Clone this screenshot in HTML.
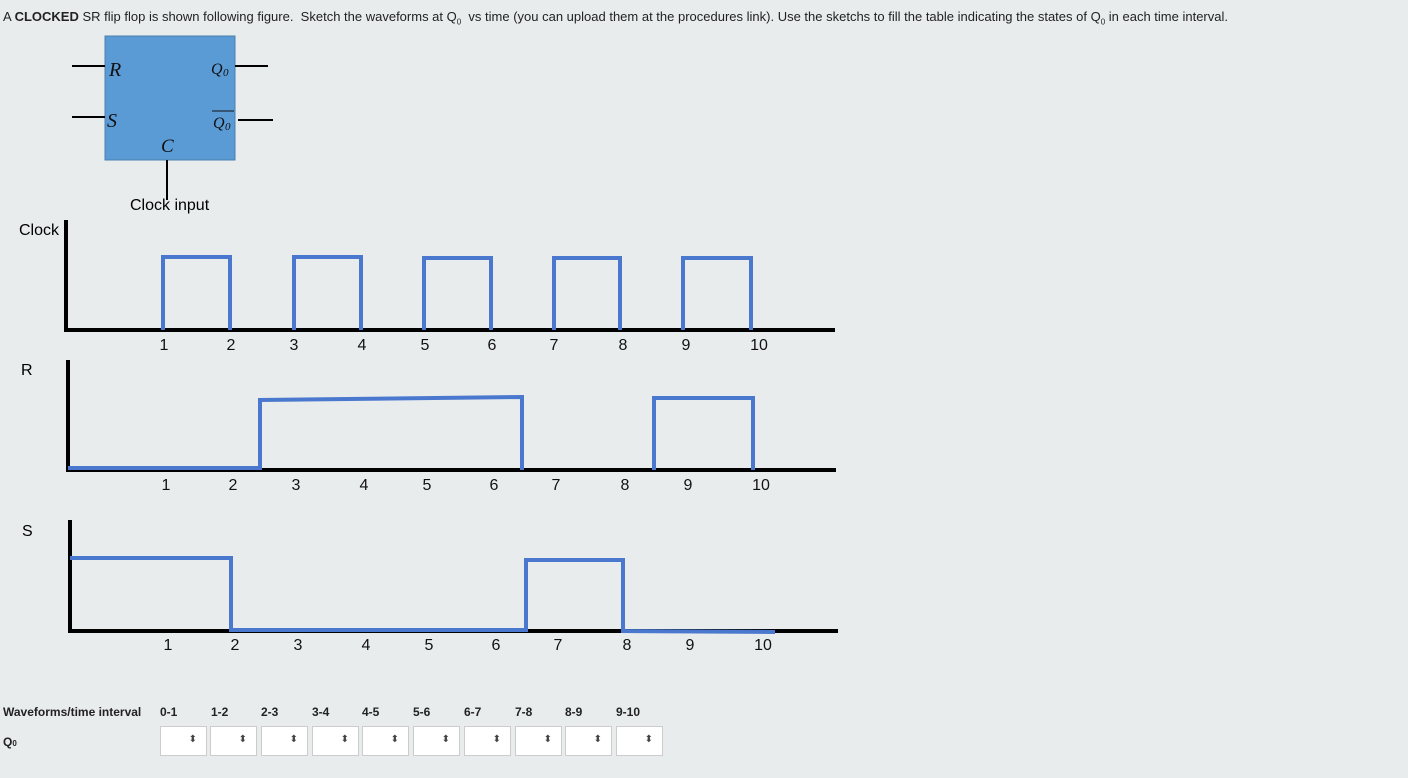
<!DOCTYPE html>
<html><head><style>
body{margin:0;background:#e9eced;width:1408px;height:778px;overflow:hidden;position:relative;font-family:"Liberation Sans",sans-serif}
.t{position:absolute;left:3px;top:9px;font-size:13px;color:#222;white-space:nowrap}
.h{position:absolute;top:705px;font-size:12px;font-weight:bold;color:#222;white-space:nowrap}
.box{position:absolute;top:726px;width:47px;height:30px;background:#fff;border:1px solid #ccc;box-sizing:border-box}
.box:after{content:"⬍";position:absolute;right:9px;top:7px;font-size:10px;color:#444}
</style></head><body>
<div class="t">A <b>CLOCKED</b> SR flip flop is shown following figure.&nbsp; Sketch the waveforms at Q<sub style="font-size:8px">0</sub>&nbsp; vs time (you can upload them at the procedures link). Use the sketchs to fill the table indicating the states of Q<sub style="font-size:8px">0</sub> in each time interval.</div>
<svg width="1408" height="778" style="position:absolute;left:0;top:0" font-family="Liberation Sans, sans-serif">
<rect x="105" y="36" width="130" height="124" fill="#5b9bd5" stroke="#4a7fb0"/>
<g stroke="#000" stroke-width="2">
<line x1="72" y1="66" x2="105" y2="66"/><line x1="72" y1="117" x2="105" y2="117"/>
<line x1="235" y1="66" x2="268" y2="66"/><line x1="238" y1="120" x2="273" y2="120"/>
<line x1="167" y1="160" x2="167" y2="200"/></g>
<g font-family="Liberation Serif, serif" font-style="italic" fill="#111">
<text x="109" y="76" font-size="20">R</text><text x="107" y="127" font-size="20">S</text>
<text x="161" y="152" font-size="19">C</text>
<text x="211" y="74" font-size="16">Q</text><text x="223" y="76" font-size="11">0</text>
<text x="213" y="128" font-size="16">Q</text><text x="225" y="130" font-size="11">0</text>
<line x1="212" y1="111" x2="234" y2="111" stroke="#111" stroke-width="1"/></g>
<text x="130" y="210" font-size="16">Clock input</text>
<text x="19" y="235" font-size="16">Clock</text>
<text x="21" y="375" font-size="16">R</text>
<text x="22" y="536" font-size="16">S</text>
<g stroke="#000" stroke-width="4" fill="none">
<path d="M66 220V330H835"/><path d="M68 360V470H836"/><path d="M70 520V631H838"/></g>
<g stroke="#4a78cf" stroke-width="4" fill="none">
<path d="M163 330V257H230V330M294 330V257H361V330M424 330V258H491V330M554 330V258H620V330M683 330V258H751V330"/>
<path d="M68 468H260V400L522 397V470M654 470V398H753V470"/>
<path d="M70 558H231V630H526V560H623V631L775 632"/></g>
<g font-size="16" fill="#111" text-anchor="middle">
<g transform="translate(0,350)"><text x="164">1</text><text x="231">2</text><text x="294">3</text><text x="362">4</text><text x="425">5</text><text x="492">6</text><text x="554">7</text><text x="623">8</text><text x="686">9</text><text x="759">10</text></g>
<g transform="translate(0,490)"><text x="166">1</text><text x="233">2</text><text x="296">3</text><text x="364">4</text><text x="427">5</text><text x="494">6</text><text x="556">7</text><text x="625">8</text><text x="688">9</text><text x="761">10</text></g>
<g transform="translate(0,650)"><text x="168">1</text><text x="235">2</text><text x="298">3</text><text x="366">4</text><text x="429">5</text><text x="496">6</text><text x="558">7</text><text x="627">8</text><text x="690">9</text><text x="763">10</text></g>
</g></svg>
<div class="h" style="left:3px">Waveforms/time interval</div>
<div class="h" style="left:160px">0-1</div><div class="h" style="left:211px">1-2</div><div class="h" style="left:261px">2-3</div><div class="h" style="left:312px">3-4</div><div class="h" style="left:362px">4-5</div><div class="h" style="left:413px">5-6</div><div class="h" style="left:464px">6-7</div><div class="h" style="left:515px">7-8</div><div class="h" style="left:565px">8-9</div><div class="h" style="left:616px">9-10</div>
<div class="h" style="left:3px;top:735px">Q<span style="font-size:8px">0</span></div>
<div class="box" style="left:160px"></div><div class="box" style="left:210px"></div><div class="box" style="left:261px"></div><div class="box" style="left:312px"></div><div class="box" style="left:362px"></div><div class="box" style="left:413px"></div><div class="box" style="left:464px"></div><div class="box" style="left:515px"></div><div class="box" style="left:565px"></div><div class="box" style="left:616px"></div>
</body></html>
